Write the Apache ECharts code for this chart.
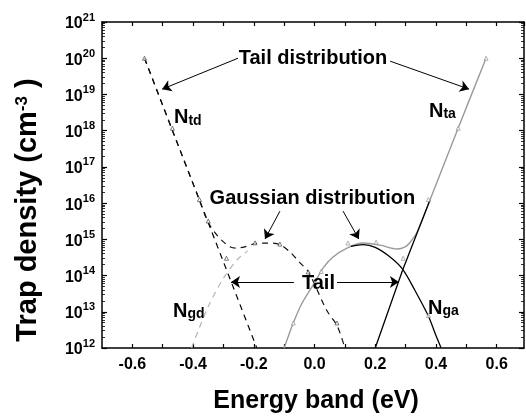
<!DOCTYPE html>
<html>
<head>
<meta charset="utf-8">
<script src="https://cdn.jsdelivr.net/npm/echarts@6/dist/echarts.min.js"></script>
<style>
  html, body { margin: 0; padding: 0; background: #fff; }
  #chart { width: 526px; height: 420px; }
</style>
</head>
<body>
<div id="chart"></div>
<script>
// Trap density of states (cm^-3) versus energy (eV)

// Donor-like tail states N_td (exponential)
const ntdE = [-0.56, -0.375, -0.19];
const ntdN = [1e20, 1e16, 1e12];

// Donor-like Gaussian states N_gd
const ngdE = [-0.405, -0.38, -0.35, -0.30, -0.25, -0.22];
const ngdN = [1e12, 3.5e12, 1.4e13, 8.5e13, 3.0e14, 4.8e14];

// Total donor-like distribution (tail + Gaussian)
const donorE = [-0.56, -0.468, -0.38, -0.35, -0.32, -0.30, -0.28, -0.26, -0.23, -0.196,
                -0.155, -0.115, -0.08, -0.05, -0.02, 0.04, 0.075, 0.1];
const donorN = [1e20, 1e18, 1.26e16, 2.9e15, 1.26e15, 8.5e14, 6.3e14, 5.75e14, 6.2e14, 7.6e14,
                7.9e14, 7.2e14, 4.4e14, 2.35e14, 1.26e14, 1.1e13, 4e12, 1e12];

// Total acceptor-like distribution (tail + Gaussian)
const accE = [-0.1, -0.07, -0.04, 0.0, 0.028, 0.06, 0.107, 0.16, 0.216, 0.272,
              0.3, 0.315, 0.338, 0.38, 0.473, 0.565];
const accN = [1e12, 4.9e12, 1.8e13, 6.3e13, 1.6e14, 3.2e14, 5.75e14, 7.9e14, 6.9e14, 5.4e14,
              6.3e14, 8.3e14, 1.6e15, 1.2e16, 1.17e18, 1e20];

// Acceptor-like Gaussian states N_ga
const ngaE = [0.12, 0.16, 0.2, 0.25, 0.29, 0.33, 0.375, 0.4, 0.417];
const ngaN = [6.4e14, 7.1e14, 6e14, 3.2e14, 1.5e14, 4e13, 7.6e12, 2.2e12, 1e12];

// Acceptor-like tail states N_ta
const ntaE = [0.2, 0.29, 0.38];
const ntaN = [1e12, 1.4e14, 1.2e16];

// Extracted points
const donorPtsE = [-0.56, -0.468, -0.379, -0.35, -0.29, -0.196, -0.114, -0.021, 0.074];
const donorPtsN = [1e20, 1.17e18, 1.26e16, 3.2e15, 3e14, 8e14, 7.4e14, 1.26e14, 4.9e12];
const accPtsE = [-0.07, 0.022, 0.11, 0.203, 0.292, 0.375, 0.375, 0.473, 0.565];
const accPtsN = [4.9e12, 1.3e14, 7.9e14, 8.3e14, 3e14, 7.9e12, 1.26e16, 1.17e18, 1e20];

// Axis ranges and tick labels
const xMin = -0.7, xMax = 0.69, xStep = 0.1;
const yMin = 1e12, yMax = 1e21;
const xTitle = 'Energy band (eV)';
const yTitle = 'Trap density (cm{sup|-3} )';

const FONT = '"Liberation Sans", Arial, sans-serif';
const pairs = (xs, ys) => xs.map((x, i) => [x, ys[i]]);

const chart = echarts.init(document.getElementById('chart'), null, { renderer: 'canvas' });

function xAxisCfg(pos, showLabels) {
  return {
    type: 'value', position: pos, min: xMin, max: xMax, interval: xStep,
    axisLine: { onZero: false, lineStyle: { color: '#000', width: 1.5 } },
    axisTick: { inside: true, length: 4, lineStyle: { color: '#000', width: 1.2 } },
    splitLine: { show: false },
    axisLabel: {
      show: showLabels, showMinLabel: false, showMaxLabel: false, margin: 9,
      color: '#000', fontSize: 16, fontWeight: 'bold', fontFamily: FONT,
      formatter: v => { const t = Math.round(v * 10); return t % 2 === 0 ? (t / 10).toFixed(1) : ''; }
    }
  };
}
function yAxisCfg(pos, showLabels) {
  return {
    type: 'log', logBase: 10, position: pos, min: yMin, max: yMax, interval: 1,
    axisLine: { onZero: false, lineStyle: { color: '#000', width: 1.5 } },
    axisTick: { inside: true, length: 5, lineStyle: { color: '#000', width: 1.2 } },
    minorTick: { show: true, splitNumber: 9, length: 3, lineStyle: { color: '#000', width: 0.8 } },
    splitLine: { show: false },
    minorSplitLine: { show: false },
    axisLabel: {
      show: showLabels, margin: 7, color: '#000', fontFamily: FONT,
      formatter: v => '{b|10}{s|' + Math.round(Math.log10(v)) + '}',
      rich: {
        b: { fontSize: 16, fontWeight: 'bold', fontFamily: FONT, lineHeight: 20, verticalAlign: 'bottom', color: '#000' },
        s: { fontSize: 11, fontWeight: 'bold', fontFamily: FONT, lineHeight: 12, verticalAlign: 'top', color: '#000' }
      }
    }
  };
}

const subRich = {
  n: { fontSize: 20, fontWeight: 'bold', fontFamily: FONT, color: '#000', verticalAlign: 'bottom', lineHeight: 22 },
  s: { fontSize: 14, fontWeight: 'bold', fontFamily: FONT, color: '#000', verticalAlign: 'bottom', lineHeight: 18 }
};
function textMark(coord, text, align) {
  return {
    coord: coord, symbolSize: 0,
    label: {
      show: true, position: align === 'left' ? 'right' : 'inside', distance: 0,
      formatter: text, color: '#000', fontSize: 20, fontWeight: 'bold', fontFamily: FONT, rich: subRich
    }
  };
}
function arrow(from, to) { return [{ coord: from }, { coord: to }]; }

const lineBase = { type: 'line', showSymbol: false, symbol: 'none', silent: true, animation: false, z: 3 };

chart.setOption({
  animation: false,
  grid: { left: 102, right: 2, top: 22, bottom: 72, containLabel: false },
  xAxis: [xAxisCfg('bottom', true), xAxisCfg('top', false)],
  yAxis: [yAxisCfg('left', true), yAxisCfg('right', false)],
  graphic: [
    { type: 'text', x: 316, y: 401, silent: true,
      style: { text: xTitle, fill: '#000', fontSize: 25, fontWeight: 'bold', fontFamily: FONT, align: 'center', verticalAlign: 'middle' } },
    { type: 'text', x: 28, y: 210, rotation: Math.PI / 2, silent: true,
      style: { text: yTitle, fill: '#000', fontSize: 29, fontWeight: 'bold', fontFamily: FONT, align: 'center', verticalAlign: 'middle',
        rich: { sup: { fontSize: 17, fontWeight: 'bold', fontFamily: FONT, fill: '#000', verticalAlign: 'top', lineHeight: 14 } } } }
  ],
  series: [
    Object.assign({}, lineBase, {
      name: 'Ngd', data: pairs(ngdE, ngdN), smooth: 0.3,
      lineStyle: { color: '#b4b4b4', width: 1.2, type: [6, 5] }
    }),
    Object.assign({}, lineBase, {
      name: 'Ntd', data: pairs(ntdE, ntdN),
      lineStyle: { color: '#000', width: 1.2, type: [6, 5] },
      markLine: {
        silent: true, animation: false, symbol: ['none', 'arrow'], symbolSize: 9,
        label: { show: false },
        lineStyle: { color: '#000', width: 1, type: 'solid' },
        data: [
          arrow([-0.252, 1e20], [-0.502, 1.4e19]),
          arrow([0.249, 8.3e19], [0.509, 1.4e19]),
          arrow([-0.114, 6e15], [-0.163, 1.02e15]),
          arrow([0.094, 6e15], [0.146, 1.02e15]),
          arrow([-0.068, 6.6e13], [-0.275, 6.6e13]),
          arrow([0.074, 6.6e13], [0.278, 6.6e13])
        ]
      },
      markPoint: {
        silent: true, animation: false, symbol: 'circle', symbolSize: 0,
        itemStyle: { color: 'transparent' },
        data: [
          textMark([-0.005, 1e20], 'Tail distribution'),
          textMark([-0.007, 1.38e16], 'Gaussian distribution'),
          textMark([0.013, 6.2e13], 'Tail'),
          textMark([-0.463, 2.4e18], '{n|N}{s|td}', 'left'),
          textMark([0.377, 3.7e18], '{n|N}{s|ta}', 'left'),
          textMark([-0.466, 1.12e13], '{n|N}{s|gd}', 'left'),
          textMark([0.374, 1.35e13], '{n|N}{s|ga}', 'left')
        ]
      }
    }),
    Object.assign({}, lineBase, {
      name: 'Donor total', data: pairs(donorE, donorN), smooth: 0.3,
      lineStyle: { color: '#111', width: 1.2, type: [6, 5] }
    }),
    Object.assign({}, lineBase, {
      name: 'Acceptor total', data: pairs(accE, accN), smooth: 0.3,
      lineStyle: { color: '#9a9a9a', width: 1.4 }
    }),
    Object.assign({}, lineBase, {
      name: 'Nga', data: pairs(ngaE, ngaN), smooth: 0.3,
      lineStyle: { color: '#000', width: 1.3 }
    }),
    Object.assign({}, lineBase, {
      name: 'Nta', data: pairs(ntaE, ntaN),
      lineStyle: { color: '#000', width: 1.3 }
    }),
    {
      type: 'scatter', name: 'Donor points', data: pairs(donorPtsE, donorPtsN), silent: true, z: 4,
      symbol: 'triangle', symbolSize: 4,
      itemStyle: { color: '#fff', borderColor: '#333', borderWidth: 0.8 }
    },
    {
      type: 'scatter', name: 'Acceptor points', data: pairs(accPtsE, accPtsN), silent: true, z: 4,
      symbol: 'triangle', symbolSize: 4,
      itemStyle: { color: '#fff', borderColor: '#888', borderWidth: 0.8 }
    }
  ]
});
</script>
</body>
</html>
